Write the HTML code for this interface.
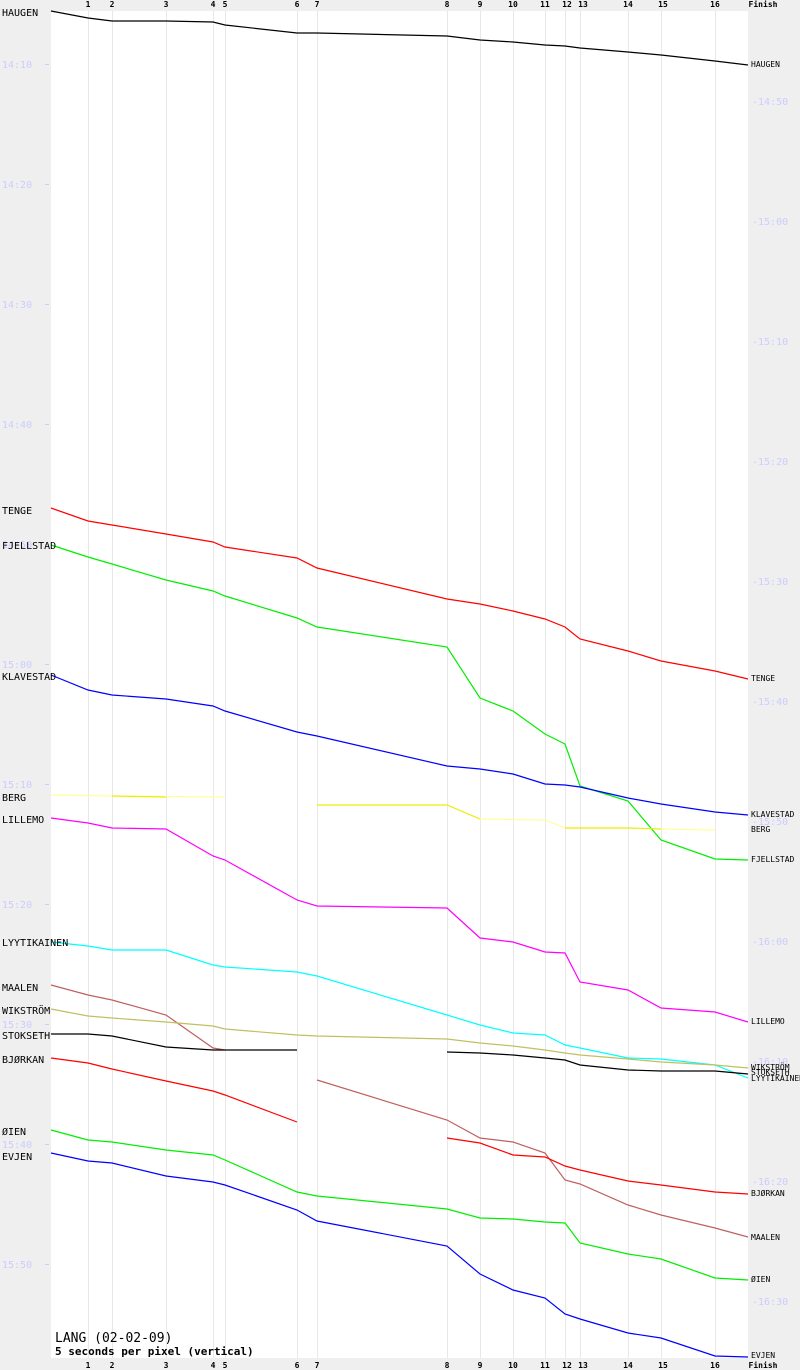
<!DOCTYPE html>
<html><head><meta charset="utf-8"><style>
html,body{margin:0;padding:0;background:#efefef}
svg{display:block}
text{font-family:"DejaVu Sans Mono","Liberation Mono",monospace}
</style></head><body>
<svg width="800" height="1370" xmlns="http://www.w3.org/2000/svg">
<rect x="0" y="0" width="800" height="1370" fill="#efefef"/>
<rect x="51" y="11" width="697" height="1347" fill="#fff"/>
<g stroke="#e8e8e8" stroke-width="1">
<line x1="88.5" y1="11" x2="88.5" y2="1358"/><line x1="112.5" y1="11" x2="112.5" y2="1358"/>
<line x1="166.5" y1="11" x2="166.5" y2="1358"/><line x1="213.5" y1="11" x2="213.5" y2="1358"/>
<line x1="225.5" y1="11" x2="225.5" y2="1358"/><line x1="297.5" y1="11" x2="297.5" y2="1358"/>
<line x1="317.5" y1="11" x2="317.5" y2="1358"/><line x1="447.5" y1="11" x2="447.5" y2="1358"/>
<line x1="480.5" y1="11" x2="480.5" y2="1358"/><line x1="513.5" y1="11" x2="513.5" y2="1358"/>
<line x1="545.5" y1="11" x2="545.5" y2="1358"/><line x1="565.5" y1="11" x2="565.5" y2="1358"/>
<line x1="580.5" y1="11" x2="580.5" y2="1358"/><line x1="628.5" y1="11" x2="628.5" y2="1358"/>
<line x1="661.5" y1="11" x2="661.5" y2="1358"/><line x1="715.5" y1="11" x2="715.5" y2="1358"/>
</g>
<g font-size="8" fill="#000" text-anchor="middle" font-weight="bold">
<text x="88" y="7">1</text><text x="112" y="7">2</text><text x="166" y="7">3</text><text x="213" y="7">4</text><text x="225" y="7">5</text><text x="297" y="7">6</text><text x="317" y="7">7</text><text x="447" y="7">8</text><text x="480" y="7">9</text><text x="513" y="7">10</text><text x="545" y="7">11</text><text x="567" y="7">12</text><text x="583" y="7">13</text><text x="628" y="7">14</text><text x="663" y="7">15</text><text x="715" y="7">16</text><text x="763" y="7">Finish</text>
<text x="88" y="1368">1</text><text x="112" y="1368">2</text><text x="166" y="1368">3</text><text x="213" y="1368">4</text><text x="225" y="1368">5</text><text x="297" y="1368">6</text><text x="317" y="1368">7</text><text x="447" y="1368">8</text><text x="480" y="1368">9</text><text x="513" y="1368">10</text><text x="545" y="1368">11</text><text x="567" y="1368">12</text><text x="583" y="1368">13</text><text x="628" y="1368">14</text><text x="663" y="1368">15</text><text x="715" y="1368">16</text><text x="763" y="1368">Finish</text>
</g>
<g font-size="10" fill="#ccccff">
<text x="2" y="68">14:10</text><text x="2" y="188">14:20</text><text x="2" y="308">14:30</text><text x="2" y="428">14:40</text><text x="2" y="548">14:50</text><text x="2" y="668">15:00</text><text x="2" y="788">15:10</text><text x="2" y="908">15:20</text><text x="2" y="1028">15:30</text><text x="2" y="1148">15:40</text><text x="2" y="1268">15:50</text>
<text x="752" y="105">-14:50</text><text x="752" y="225">-15:00</text><text x="752" y="345">-15:10</text><text x="752" y="465">-15:20</text><text x="752" y="585">-15:30</text><text x="752" y="705">-15:40</text><text x="752" y="825">-15:50</text><text x="752" y="945">-16:00</text><text x="752" y="1065">-16:10</text><text x="752" y="1185">-16:20</text><text x="752" y="1305">-16:30</text>
</g>
<g stroke="#ccccff"><line x1="45" y1="64.5" x2="49" y2="64.5"/><line x1="45" y1="184.5" x2="49" y2="184.5"/><line x1="45" y1="304.5" x2="49" y2="304.5"/><line x1="45" y1="424.5" x2="49" y2="424.5"/><line x1="45" y1="544.5" x2="49" y2="544.5"/><line x1="45" y1="664.5" x2="49" y2="664.5"/><line x1="45" y1="784.5" x2="49" y2="784.5"/><line x1="45" y1="904.5" x2="49" y2="904.5"/><line x1="45" y1="1024.5" x2="49" y2="1024.5"/><line x1="45" y1="1144.5" x2="49" y2="1144.5"/><line x1="45" y1="1264.5" x2="49" y2="1264.5"/></g>
<g fill="none" stroke-width="1.2">
<polyline stroke="#000" points="51,11 88,18 112,21 166,21 213,22 225,25 297,33 317,33 447,36 480,40 513,42 545,45 565,46 580,48 628,52 661,55 715,61 748,65"/>
<polyline stroke="#f00" points="51,508 88,521 112,525 166,534 213,542 225,547 297,558 317,568 447,599 480,604 513,611 545,619 565,627 580,639 628,651 661,661 715,671 748,679"/>
<polyline stroke="#0e0" points="51,545 88,557 112,564 166,580 213,591 225,596 297,618 317,627 447,647 480,698 513,711 545,734 565,744 580,786 628,801 661,840 715,859 748,860"/>
<polyline stroke="#00f" points="51,675 88,690 112,695 166,699 213,706 225,711 297,732 317,736 447,766 480,769 513,774 545,784 565,785 580,787 628,798 661,804 715,812 748,815"/>
<polyline stroke="#ffff99" points="51,795 112,796 225,797"/>
<polyline stroke="#ee0" points="112,796 166,797"/>
<polyline stroke="#ee0" points="317,805 447,805 480,819"/>
<polyline stroke="#ffff99" points="480,819 545,820 565,828"/>
<polyline stroke="#ee0" points="565,828 628,828 661,829"/>
<polyline stroke="#ffff99" points="661,829 715,830"/>
<polyline stroke="#f0f" points="51,818 88,823 112,828 166,829 213,856 225,860 297,900 317,906 447,908 480,938 513,942 545,952 565,953 580,982 628,990 661,1008 715,1012 748,1022"/>
<polyline stroke="#0ff" points="51,942 88,946 112,950 166,950 213,965 225,967 297,972 317,976 447,1015 480,1025 513,1033 545,1035 565,1045 580,1048 628,1058 661,1059 715,1065 748,1078"/>
<polyline stroke="#c06060" points="51,985 88,995 112,1000 166,1015 213,1048 225,1050"/>
<polyline stroke="#c06060" points="317,1080 447,1120 480,1138 513,1142 545,1153 565,1180 580,1184 628,1205 661,1215 715,1228 748,1237"/>
<polyline stroke="#c0c060" points="51,1009 88,1016 112,1018 166,1022 213,1026 225,1029 297,1035 317,1036 447,1039 480,1043 513,1046 545,1050 565,1053 580,1055 628,1059 661,1062 715,1065 748,1068"/>
<polyline stroke="#000" points="51,1034 88,1034 112,1036 166,1047 213,1050 297,1050"/>
<polyline stroke="#000" points="447,1052 480,1053 513,1055 545,1058 565,1060 580,1065 628,1070 661,1071 715,1071 748,1074"/>
<polyline stroke="#f00" points="51,1058 88,1063 112,1069 166,1081 213,1091 225,1095 297,1122"/>
<polyline stroke="#f00" points="447,1138 480,1143 513,1155 545,1157 565,1166 580,1170 628,1181 661,1185 715,1192 748,1194"/>
<polyline stroke="#0e0" points="51,1130 88,1140 112,1142 166,1150 213,1155 225,1160 297,1192 317,1196 447,1209 480,1218 513,1219 545,1222 565,1223 580,1243 628,1254 661,1259 715,1278 748,1280"/>
<polyline stroke="#00f" points="51,1153 88,1161 112,1163 166,1176 213,1182 225,1185 297,1210 317,1221 447,1246 480,1274 513,1290 545,1298 565,1314 580,1319 628,1333 661,1338 715,1356 748,1357"/>
</g>
<g font-size="10" fill="#000">
<text x="2" y="16">HAUGEN</text><text x="2" y="514">TENGE</text><text x="2" y="549">FJELLSTAD</text><text x="2" y="680">KLAVESTAD</text><text x="2" y="801">BERG</text><text x="2" y="823">LILLEMO</text><text x="2" y="946">LYYTIKAINEN</text><text x="2" y="991">MAALEN</text><text x="2" y="1014">WIKSTRÖM</text><text x="2" y="1039">STOKSETH</text><text x="2" y="1063">BJØRKAN</text><text x="2" y="1135">ØIEN</text><text x="2" y="1160">EVJEN</text>
</g>
<g font-size="8" fill="#000">
<text x="751" y="67">HAUGEN</text><text x="751" y="681">TENGE</text><text x="751" y="817">KLAVESTAD</text><text x="751" y="832">BERG</text><text x="751" y="862">FJELLSTAD</text><text x="751" y="1024">LILLEMO</text><text x="751" y="1070">WIKSTRÖM</text><text x="751" y="1075">STOKSETH</text><text x="751" y="1081">LYYTIKAINEN</text><text x="751" y="1196">BJØRKAN</text><text x="751" y="1240">MAALEN</text><text x="751" y="1282">ØIEN</text><text x="751" y="1358">EVJEN</text>
</g>
<text x="55" y="1342" font-size="13" fill="#000">LANG (02-02-09)</text>
<text x="55" y="1355" font-size="11" font-weight="bold" fill="#000">5 seconds per pixel (vertical)</text>
</svg>
</body></html>
